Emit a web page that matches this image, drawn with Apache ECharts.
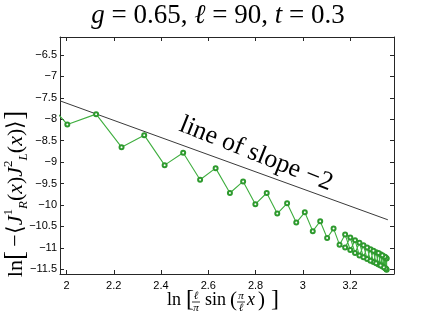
<!DOCTYPE html>
<html>
<head>
<meta charset="utf-8">
<script src="https://cdn.jsdelivr.net/npm/echarts@6/dist/echarts.min.js"></script>
<style>
  html, body { margin:0; padding:0; background:#fff; }
  #chart { width:436px; height:323px; }
</style>
</head>
<body>
<div id="chart"></div>
<script>
/* Correlator decay vs chord length, open circles joined by a thin green line,
   with a reference line of slope -2. */

// ln[(l/pi) sin(pi x / l)] for x = 6.5 ... 44.5, l = 90
var XS = [1.8632, 2.0034, 2.1253, 2.2329, 2.3289, 2.4153, 2.4938, 2.5654, 2.6311, 2.6916,
          2.7475, 2.7993, 2.8473, 2.8920, 2.9336, 2.9724, 3.0085, 3.0422, 3.0737, 3.1030,
          3.1303, 3.1556, 3.1792, 3.2010, 3.2211, 3.2397, 3.2567, 3.2722, 3.2863, 3.2990,
          3.3103, 3.3204, 3.3291, 3.3365, 3.3427, 3.3476, 3.3512, 3.3537, 3.3549];
var YS = [-7.25, -8.12, -7.88, -8.65, -8.37, -9.07, -8.78, -9.41, -9.14, -9.72,
          -9.45, -9.98, -9.72, -10.20, -9.96, -10.41, -10.17, -10.61, -10.38, -10.77,
          -10.55, -10.93, -10.69, -11.05, -10.82, -11.18, -10.94, -11.26, -11.03, -11.33,
          -11.10, -11.39, -11.15, -11.43, -11.20, -11.47, -11.23, -11.50, -11.25];

// second half of the chain (x past l/2) folds back onto the same abscissae
var XS_BACK = [3.3549, 3.3537, 3.3512, 3.3476, 3.3427, 3.3365, 3.3291, 3.3204, 3.3103,
               3.2990, 3.2863, 3.2722, 3.2567, 3.2397, 3.2211, 3.2010, 3.1792];
var YS_BACK = [-11.51, -11.24, -11.48, -11.21, -11.45, -11.17, -11.41, -11.12, -11.36,
               -11.07, -11.30, -10.99, -11.22, -10.88, -11.12, -10.76, -10.99];

// thin dark envelope through the folded part
var ENV_UP = [[3.1792, -10.69], [3.3549, -11.25]];
var ENV_LO = [[3.1556, -10.93], [3.3549, -11.51]];

// reference line of slope -2
var SLOPE_LINE = [[1.9725, -7.57], [3.36, -10.345]];

var X_TICKS = [2, 2.2, 2.4, 2.6, 2.8, 3, 3.2];
var Y_TICKS = [-11.5, -11, -10.5, -10, -9.5, -9, -8.5, -8, -7.5, -7, -6.5];

var XMIN = 1.9725, XMAX = 3.386, YMIN = -11.61, YMAX = -6.08;

var chart = echarts.init(document.getElementById('chart'), null, {renderer:'canvas'});

var pts = [];
XS.forEach(function(x, i){ pts.push([x, YS[i]]); });
XS_BACK.forEach(function(x, i){ pts.push([x, YS_BACK[i]]); });

function fmtNum(v){ return String(v).replace('-', '\u2212'); }

var SANS = 'Liberation Sans';
var SERIF = 'Liberation Serif';

function xAx(pos, labels){
  return {
    type:'value', position:pos, min:XMIN, max:XMAX,
    axisLine:{ show:true, onZero:false, lineStyle:{ color:'#262626', width:1 } },
    axisTick:{ show:true, inside:true, length:4, customValues:X_TICKS, lineStyle:{ color:'#262626' } },
    axisLabel:{ show:labels, customValues:X_TICKS, margin:6, fontFamily:SANS, fontSize:11, color:'#000', formatter:fmtNum },
    splitLine:{ show:false }
  };
}
function yAx(pos, labels){
  return {
    type:'value', position:pos, min:YMIN, max:YMAX,
    axisLine:{ show:true, onZero:false, lineStyle:{ color:'#262626', width:1 } },
    axisTick:{ show:true, inside:true, length:4, customValues:Y_TICKS, lineStyle:{ color:'#262626' } },
    axisLabel:{ show:labels, customValues:Y_TICKS, margin:3, fontFamily:SANS, fontSize:11, color:'#000', formatter:fmtNum },
    splitLine:{ show:false }
  };
}

// a small stacked fraction for the x-axis label
function frac(x, top, bot){
  return {
    type:'group', x:x, y:0,
    children:[
      { type:'text', x:0, y:-4, style:{ text:top, fontFamily:SERIF, fontSize:11, fontStyle:'italic', fill:'#000', align:'center', verticalAlign:'middle' } },
      { type:'line', shape:{ x1:-4, y1:2, x2:4, y2:2 }, style:{ stroke:'#000', lineWidth:0.8 } },
      { type:'text', x:0, y:8, style:{ text:bot, fontFamily:SERIF, fontSize:11, fontStyle:'italic', fill:'#000', align:'center', verticalAlign:'middle' } }
    ]
  };
}
function txt(x, s, size, italic){
  return { type:'text', x:x, y:0, style:{ text:s, fontFamily:SERIF, fontSize:size, fontStyle:italic ? 'italic' : 'normal', fill:'#000', align:'left', verticalAlign:'middle' } };
}

var option = {
  backgroundColor:'#fff',
  animation:false,
  grid:{ left:60, right:42, top:37, bottom:49, containLabel:false },
  xAxis:[ xAx('bottom', true), xAx('top', false) ],
  yAxis:[ yAx('left', true), yAx('right', false) ],
  title:{
    text:'{i|g} = 0.65, {i|ℓ} = 90, {i|t} = 0.3',
    left:'center', top:-3,
    textStyle:{
      fontFamily:SERIF, fontSize:27, fontWeight:'normal', color:'#000',
      rich:{ i:{ fontFamily:SERIF, fontSize:27, fontStyle:'italic', color:'#000' } }
    }
  },
  graphic:[
    {
      type:'text', x:16, y:194, rotation:Math.PI/2,
      style:{
        text:'ln{b|[}\u2009\u2212\u27e8{i|J}{sup|1}{sub|R}({i|x}){i|J}{sup|2}{sub|L}({i|x})\u27e9{b|]}',
        fontFamily:SERIF, fontSize:22, fill:'#000', align:'center', verticalAlign:'middle',
        rich:{
          i:{ fontFamily:SERIF, fontSize:22, fontStyle:'italic' },
          b:{ fontFamily:SERIF, fontSize:27 },
          sup:{ fontFamily:SERIF, fontSize:13, verticalAlign:'top', lineHeight:28 },
          sub:{ fontFamily:SERIF, fontSize:13, fontStyle:'italic', verticalAlign:'bottom', lineHeight:28 }
        }
      }
    },
    {
      type:'group', x:167, y:300,
      children:[
        txt(0, 'ln', 18, false),
        txt(19, '[', 24, false),
        frac(29, 'ℓ', 'π'),
        txt(38, 'sin', 18, false),
        txt(63, '(', 21, false),
        frac(74, 'π', 'ℓ'),
        txt(80, 'x', 18, true),
        txt(91, ')', 21, false),
        txt(104, ']', 24, false)
      ]
    },
    {
      type:'text', x:256, y:154, rotation:-0.38,
      style:{
        text:'line of slope \u22122', fontFamily:SERIF, fontSize:26, fill:'#000',
        align:'center', verticalAlign:'middle'
      }
    }
  ],
  series:[
    {
      type:'line', data:SLOPE_LINE, symbol:'none', silent:true,
      lineStyle:{ color:'#3a3a3a', width:1 }, z:2
    },
    {
      type:'line', data:ENV_UP, symbol:'none', silent:true,
      lineStyle:{ color:'#4a4a4a', width:0.8 }, z:2
    },
    {
      type:'line', data:ENV_LO, symbol:'none', silent:true,
      lineStyle:{ color:'#4a4a4a', width:0.8 }, z:2
    },
    {
      type:'line', data:pts, symbol:'emptyCircle', symbolSize:4, clip:true,
      lineStyle:{ color:'#3fae3f', width:1.1 },
      itemStyle:{ color:'#2e9a2e', borderColor:'#2e9a2e', borderWidth:1 },
      z:3
    }
  ]
};

chart.setOption(option);
window.addEventListener('resize', function(){ chart.resize(); });
</script>
</body>
</html>
